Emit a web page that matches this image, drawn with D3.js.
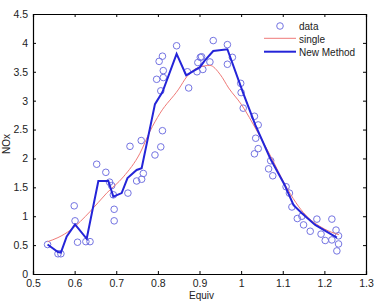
<!DOCTYPE html>
<html lang="en">
<head>
<meta charset="UTF-8">
<title>NOx vs Equiv</title>
<script src="https://d3js.org/d3.v7.min.js"></script>
<style>
  body { margin: 0; padding: 0; background: #fff; }
  svg { display: block; }
  text { font-family: 'Liberation Sans', Arial, sans-serif; fill: #222; }
  .tick text { font-size: 10.5px; }
  .axis path, .axis line { stroke: #000; }
</style>
</head>
<body>
<svg width="389" height="304"></svg>
<script>
// measured points
var equiv = [0.535, 0.560, 0.567, 0.599, 0.601, 0.607, 0.627, 0.637, 0.653, 0.675, 0.684, 0.689,
  0.693, 0.695, 0.695, 0.728, 0.733, 0.749, 0.760, 0.761, 0.765, 0.793, 0.797, 0.803, 0.807, 0.807,
  0.811, 0.811, 0.813, 0.813, 0.845, 0.871, 0.874, 0.894, 0.896, 0.902, 0.905, 0.908, 0.925, 0.933,
  0.967, 0.967, 0.979, 0.999, 1.000, 1.005, 1.032, 1.032, 1.035, 1.041, 1.041, 1.066, 1.071, 1.076,
  1.108, 1.116, 1.122, 1.135, 1.146, 1.150, 1.166, 1.182, 1.192, 1.202, 1.218, 1.218, 1.228, 1.230,
  1.234, 1.234];
var nox = [0.51, 0.35, 0.35, 1.18, 0.92, 0.55, 0.56, 0.56, 1.90, 1.76, 1.59, 1.53,
  1.37, 1.12, 0.92, 1.40, 2.21, 1.61, 2.31, 1.64, 1.74, 2.06, 3.37, 3.68, 2.20, 3.17,
  3.77, 2.48, 3.52, 3.40, 3.95, 3.50, 3.22, 3.50, 3.66, 3.75, 3.76, 3.54, 3.67, 4.04,
  3.97, 3.63, 3.75, 3.30, 3.14, 2.87, 2.73, 2.08, 2.35, 2.58, 2.17, 1.82, 1.96, 1.70,
  1.51, 1.40, 1.16, 0.96, 1.00, 0.85, 0.74, 0.95, 0.69, 0.58, 0.95, 0.59, 0.76, 0.40,
  0.66, 0.52];

// "single" fit
var singleX = [0.535, 0.56, 0.59, 0.637, 0.677, 0.717, 0.757, 0.781, 0.805, 0.85, 0.87, 0.90, 0.925,
  0.95, 0.97, 1.00, 1.04, 1.078, 1.10, 1.15, 1.20, 1.235];
var singleY = [0.56, 0.63, 0.76, 1.08, 1.40, 1.68, 2.09, 2.47, 2.78, 3.20, 3.42, 3.58, 3.61,
  3.45, 3.22, 2.94, 2.45, 1.94, 1.62, 1.06, 0.78, 0.68];

// "New Method" fit
var newX = [0.535, 0.560, 0.567, 0.581, 0.601, 0.629, 0.657, 0.681, 0.693, 0.713, 0.727, 0.749,
  0.761, 0.793, 0.811, 0.845, 0.868, 0.901, 0.912, 0.933, 0.967, 1.005, 1.034, 1.070, 1.104,
  1.126, 1.146, 1.178, 1.230];
var newY = [0.51, 0.38, 0.37, 0.65, 0.86, 0.61, 1.61, 1.61, 1.34, 1.40, 1.66, 1.80,
  1.83, 2.94, 3.15, 3.81, 3.44, 3.58, 3.69, 3.86, 3.89, 3.13, 2.58, 2.00, 1.55,
  1.19, 1.05, 0.85, 0.63];

var xTicks = [0.5, 0.6, 0.7, 0.8, 0.9, 1, 1.1, 1.2, 1.3];
var yTicks = [0, 0.5, 1, 1.5, 2, 2.5, 3, 3.5, 4, 4.5];

var margin = {top: 14, right: 23, bottom: 30, left: 33},
    width = 389 - margin.left - margin.right,
    height = 304 - margin.top - margin.bottom;

var svg = d3.select("svg");
var g = svg.append("g")
    .attr("transform", "translate(" + margin.left + "," + margin.top + ")");

var x = d3.scaleLinear().domain([0.5, 1.3]).range([0, width]);
var y = d3.scaleLinear().domain([0, 4.5]).range([height, 0]);

// axes, matlab style ticks pointing inwards
g.append("g").attr("class", "axis")
    .attr("transform", "translate(0," + height + ")")
    .call(d3.axisBottom(x).tickValues(xTicks).tickSize(-3).tickPadding(6).tickFormat(d3.format("")));
g.append("g").attr("class", "axis")
    .call(d3.axisTop(x).tickValues(xTicks).tickSize(-3).tickFormat(""));
g.append("g").attr("class", "axis")
    .call(d3.axisLeft(y).tickValues(yTicks).tickSize(-3).tickPadding(5).tickFormat(d3.format("")));
g.append("g").attr("class", "axis")
    .attr("transform", "translate(" + width + ",0)")
    .call(d3.axisRight(y).tickValues(yTicks).tickSize(-3).tickFormat(""));

g.selectAll(".axis .domain").attr("stroke-width", 1.2);

// data circles
g.selectAll(".pt")
    .data(equiv)
    .enter().append("circle")
    .attr("class", "pt")
    .attr("cx", function(d) { return x(d); })
    .attr("cy", function(d, i) { return y(nox[i]); })
    .attr("r", 3.3)
    .attr("fill", "none")
    .attr("stroke", "#7474e2")
    .attr("stroke-width", 1);

var singleLine = d3.line()
    .x(function(d) { return x(d); })
    .y(function(d, i) { return y(singleY[i]); })
    .curve(d3.curveMonotoneX);
g.append("path")
    .attr("d", singleLine(singleX))
    .attr("fill", "none")
    .attr("stroke", "#ef7a78")
    .attr("stroke-width", 1);

var newLine = d3.line()
    .x(function(d) { return x(d); })
    .y(function(d, i) { return y(newY[i]); });
g.append("path")
    .attr("d", newLine(newX))
    .attr("fill", "none")
    .attr("stroke", "#2424d8")
    .attr("stroke-width", 2);

// legend
var legend = g.append("g").attr("transform", "translate(231,12)");
legend.append("circle").attr("cx", 16).attr("cy", 0).attr("r", 3.3)
    .attr("fill", "none").attr("stroke", "#7474e2");
legend.append("line").attr("x1", 0).attr("x2", 32).attr("y1", 12.3).attr("y2", 12.3)
    .attr("stroke", "#ef7a78").attr("stroke-width", 1);
legend.append("line").attr("x1", 0).attr("x2", 32).attr("y1", 25.7).attr("y2", 25.7)
    .attr("stroke", "#2424d8").attr("stroke-width", 2);
["data", "single", "New Method"].forEach(function(t, i) {
    legend.append("text").attr("x", 35).attr("y", i * 13 + 3.5)
        .style("font-size", "10px").text(t);
});

// axis labels
svg.append("text")
    .attr("x", margin.left + x(0.905)).attr("y", 299)
    .attr("text-anchor", "middle").style("font-size", "10px")
    .text("Equiv");
svg.append("text")
    .attr("transform", "translate(10," + (margin.top + y(2.25)) + ") rotate(-90)")
    .attr("text-anchor", "middle").style("font-size", "10px")
    .text("NOx");
</script>
</body>
</html>
